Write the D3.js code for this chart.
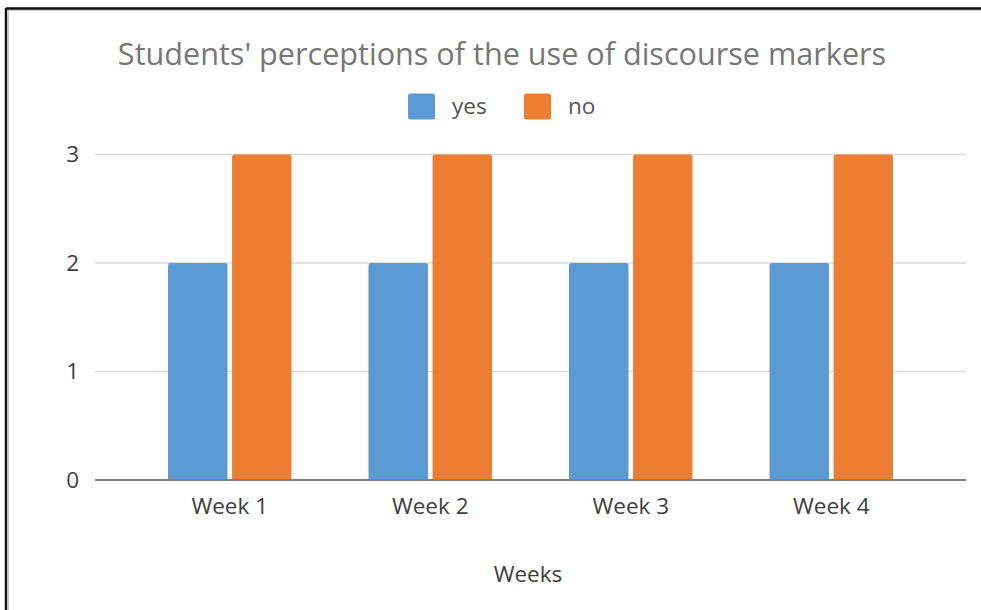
<!DOCTYPE html>
<html>
<head>
<meta charset="utf-8">
<script src="https://cdn.jsdelivr.net/npm/d3@7"></script>
<style>
  html, body { margin: 0; padding: 0; background: #fff; }
  svg { display: block; font-family: "Open Sans", "Noto Sans", sans-serif; }
</style>
</head>
<body>
<svg id="chart" width="981" height="610"></svg>
<script>
const title = "Students' perceptions of the use of discourse markers";
const weeks = ["Week 1", "Week 2", "Week 3", "Week 4"];
const seriesNames = ["yes", "no"];
const yesValues = [2, 2, 2, 2];
const noValues = [3, 3, 3, 3];
const yTicks = [0, 1, 2, 3];
const xAxisTitle = "Weeks";
const colors = ["#5B9BD5", "#ED7D31"];

const rows = weeks.map((w, i) => ({ week: w, values: [yesValues[i], noValues[i]] }));

const svg = d3.select("#chart");

// frame around the chart
svg.append("line").attr("x1", 6).attr("x2", 981).attr("y1", 8.5).attr("y2", 8.5)
  .attr("stroke", "#111").attr("stroke-width", 2.5);
svg.append("line").attr("x1", 6).attr("x2", 6).attr("y1", 8).attr("y2", 610)
  .attr("stroke", "#111").attr("stroke-width", 2.5);
svg.append("line").attr("x1", 8.5).attr("x2", 8.5).attr("y1", 10).attr("y2", 610)
  .attr("stroke", "#c8c8c8").attr("stroke-width", 1);
svg.append("line").attr("x1", 8).attr("x2", 981).attr("y1", 10.5).attr("y2", 10.5)
  .attr("stroke", "#c8c8c8").attr("stroke-width", 1);

const plotLeft = 95, plotRight = 966;
const y = d3.scaleLinear().domain([0, 3]).range([480, 154.5]);
const x0 = d3.scaleBand().domain(weeks).range([plotLeft, plotRight])
  .paddingInner(0).paddingOuter(0.172);
const groupW = 123.5;
const x1 = d3.scaleBand().domain(seriesNames).range([0, groupW]).paddingInner(0.072);

const labelSize = 22.5;
const labelColor = "#404040";

// gridlines
svg.append("g")
  .selectAll("line").data(yTicks.filter(d => d > 0)).join("line")
  .attr("x1", plotLeft).attr("x2", plotRight)
  .attr("y1", d => y(d)).attr("y2", d => y(d))
  .attr("stroke", "#d9d9d9").attr("stroke-width", 1.5);

// y axis labels
const yAxis = svg.append("g").attr("transform", `translate(${plotLeft},0)`)
  .call(d3.axisLeft(y).tickValues(yTicks).tickFormat(d3.format("d")).tickSize(0).tickPadding(16));
yAxis.select(".domain").remove();
yAxis.selectAll("text").attr("font-size", labelSize).attr("fill", labelColor)
  .attr("font-family", "\"Open Sans\", sans-serif");

// bars with slightly rounded tops
const topRounded = (bx, by, w, h, r) => {
  r = Math.min(r, w / 2, h);
  return `M${bx},${by + h}V${by + r}Q${bx},${by} ${bx + r},${by}H${bx + w - r}Q${bx + w},${by} ${bx + w},${by + r}V${by + h}Z`;
};
const groups = svg.append("g").selectAll("g").data(rows).join("g")
  .attr("transform", d => `translate(${x0(d.week) + (x0.bandwidth() - groupW) / 2},0)`);
groups.selectAll("path")
  .data(d => d.values.map((v, i) => ({ name: seriesNames[i], value: v, i })))
  .join("path")
  .attr("d", d => topRounded(x1(d.name), y(d.value), x1.bandwidth(), y(0) - y(d.value), 2.5))
  .attr("fill", d => colors[d.i]);

// baseline
svg.append("line").attr("x1", plotLeft).attr("x2", plotRight)
  .attr("y1", y(0)).attr("y2", y(0))
  .attr("stroke", "#7f7f7f").attr("stroke-width", 2);

// x axis labels
const xAxis = svg.append("g").attr("transform", `translate(0,${y(0)})`)
  .call(d3.axisBottom(x0).tickSize(0).tickPadding(0));
xAxis.select(".domain").remove();
xAxis.selectAll("text").attr("font-size", labelSize).attr("fill", labelColor)
  .attr("font-family", "\"Open Sans\", sans-serif")
  .attr("dy", null).attr("y", 34);

// axis title
svg.append("text").attr("x", 528).attr("y", 582).attr("text-anchor", "middle")
  .attr("font-size", labelSize).attr("fill", labelColor).text(xAxisTitle);

// chart title
svg.append("text").attr("x", 502).attr("y", 65).attr("text-anchor", "middle")
  .attr("font-size", 30.6).attr("fill", "#777").text(title);

// legend
const legendItems = [
  { name: seriesNames[0], color: colors[0], sx: 408, tx: 452 },
  { name: seriesNames[1], color: colors[1], sx: 524, tx: 568 }
];
const legend = svg.append("g");
legend.selectAll("rect").data(legendItems).join("rect")
  .attr("x", d => d.sx).attr("y", 93.5).attr("width", 27).attr("height", 26)
  .attr("rx", 2.5).attr("fill", d => d.color);
legend.selectAll("text").data(legendItems).join("text")
  .attr("x", d => d.tx).attr("y", 114).attr("font-size", labelSize).attr("fill", "#555")
  .text(d => d.name);
</script>
</body>
</html>
